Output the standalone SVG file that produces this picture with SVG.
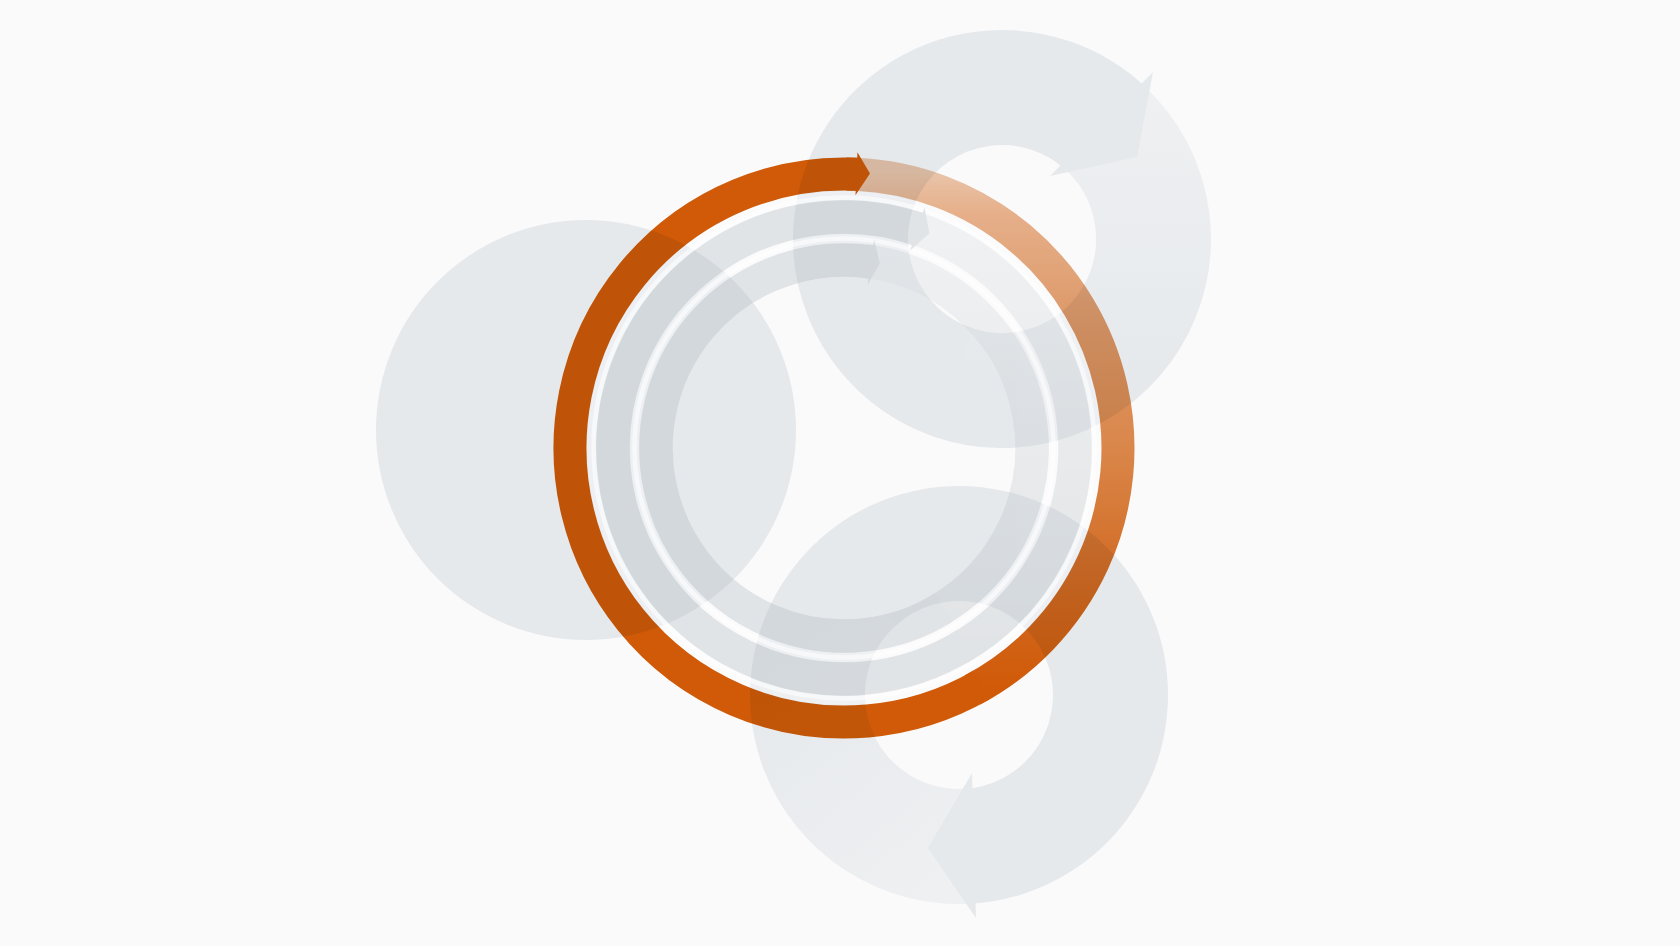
<svg xmlns="http://www.w3.org/2000/svg" width="1680" height="946" viewBox="0 0 1680 946">
<defs>
<linearGradient id="gOrangeTail" gradientUnits="userSpaceOnUse" x1="0" y1="170" x2="0" y2="690">
<stop offset="0" stop-color="#eec9ae"/>
<stop offset="0.08" stop-color="#ebb48e"/>
<stop offset="0.3" stop-color="#e29a68"/>
<stop offset="0.53" stop-color="#df8a4c"/>
<stop offset="0.8" stop-color="#d66b22"/>
<stop offset="1" stop-color="#d45c08"/>
</linearGradient>
<linearGradient id="gTR" gradientUnits="userSpaceOnUse" x1="0" y1="95" x2="0" y2="385">
<stop offset="0" stop-color="#eef0f2"/>
<stop offset="1" stop-color="#e6e9ec"/>
</linearGradient>
<linearGradient id="gB" gradientUnits="userSpaceOnUse" x1="975" y1="860" x2="800" y2="640">
<stop offset="0" stop-color="#eef0f2"/>
<stop offset="1" stop-color="#e6e9ec"/>
</linearGradient>
<linearGradient id="gBand" gradientUnits="userSpaceOnUse" x1="0" y1="200" x2="0" y2="650">
<stop offset="0" stop-color="#dde1e4"/>
<stop offset="1" stop-color="#aab3ba"/>
</linearGradient>
</defs>
<style>
.grey{fill:#e6e9ec}
.ring{fill:none;stroke-width:115}
.ringbody{stroke:#e6e9ec}
.band{fill:none;stroke-width:33.5}
.bandbody{stroke:#aab3ba}
.bandtail{stroke:url(#gBand)}
.bandhead{fill:#aab3ba}
.bandgrp{opacity:0.3}
.soft{fill:none;stroke:#ffffff;stroke-width:9;opacity:0.3}
.white{fill:none;stroke:#ffffff;stroke-width:4.5;opacity:0.55}
.orange{fill:none;stroke-width:33}
.cycle{mix-blend-mode:multiply}
</style>
<rect x="0" y="0" width="1680" height="946" fill="#fafafa"/>

<g id="circle-left">
<circle class="grey" cx="586" cy="430" r="210"/>
</g>

<g id="circle-top-right">
<path class="ring" stroke="url(#gTR)" d="M 1106.29 129.11 A 151.5 151.5 0 0 1 950.18 381.36"/>
<path class="ring ringbody" d="M 955.18 383.09 A 151.5 151.5 0 1 1 1106.29 129.11"/>
<polygon class="grey" points="1153,72 1137,157 1050,176"/>
</g>

<g id="circle-bottom">
<path class="ring" stroke="url(#gB)" d="M 966.93 846.29 A 151.5 151.5 0 0 1 861.62 578.94"/>
<path class="ring ringbody" d="M 857.63 582.41 A 151.5 151.5 0 1 1 966.93 846.29"/>
<polygon class="grey" points="972,773 928,848 976,918"/>
</g>

<g id="white-lines">
<circle class="soft" cx="844" cy="448" r="252.5"/>
<circle class="white" cx="844" cy="448" r="250.5"/>
<circle class="soft" cx="844" cy="448" r="209.5"/>
<circle class="white" cx="844" cy="448" r="209.5"/>
</g>

<g id="cycle-middle" class="bandgrp">
<path class="band bandtail" d="M 918.06 229.19 A 231 231 0 0 1 959.5 648.05"/>
<path class="band bandbody" d="M 966.41 643.9 A 231 231 0 1 1 918.06 229.19"/>
<polygon class="bandhead" points="914.44,210.21 922.69,212.82 924.59,207.13 929.41,233.37 910,250.75 911.9,245.06 904.78,242.81"/>
</g>

<g id="cycle-inner" class="bandgrp">
<path class="band bandtail" d="M 871.46 262.02 A 188 188 0 0 1 938 610.81"/>
<path class="band bandbody" d="M 943.62 607.43 A 188 188 0 1 1 871.46 262.02"/>
<polygon class="bandhead" points="867.21,244.32 873.24,245.1 874.09,239.16 879.87,263.45 867.53,284.69 868.39,278.75 863.36,278.1"/>
</g>

<g id="cycle-main" class="cycle">
<path class="orange" stroke="url(#gOrangeTail)" d="M 855.95 174.26 A 274 274 0 0 1 972.63 689.93"/>
<path class="orange" stroke="#d45c08" d="M 981 685.29 A 274 274 0 1 1 855.95 174.26"/>
<polygon fill="#d45c08" points="846.3,157.6 857.18,157.8 857.43,152.3 870,173.5 855.48,195.26 855.68,190.77 846.3,190.5"/>
</g>
</svg>
